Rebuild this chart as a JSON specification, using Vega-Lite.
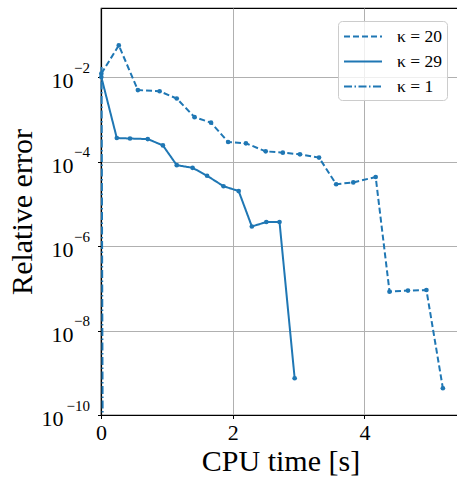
{
  "$schema": "https://vega.github.io/schema/vega-lite/v6.json",
  "width": 359,
  "height": 407,
  "autosize": {"type": "none"},
  "padding": {"left": 101, "top": 8, "right": 0, "bottom": 64},
  "background": "white",
  "config": {
    "font": "Liberation Serif",
    "view": {"stroke": "#000", "strokeWidth": 1.2},
    "axis": {
      "domainColor": "#000", "domainWidth": 1.2,
      "tickColor": "#000", "tickSize": 3.5, "tickWidth": 1,
      "gridColor": "#b0b0b0", "gridWidth": 1,
      "labelFont": "Liberation Serif", "labelFontSize": 22, "labelColor": "#000",
      "titleFont": "Liberation Serif", "titleFontSize": 30, "titleFontWeight": "normal", "titleColor": "#000"
    },
    "legend": {
      "labelFont": "Liberation Serif", "labelFontSize": 17.5, "labelColor": "#000"
    }
  },
  "datasets": {
    "curves": [
      {"k": "κ = 20", "t": 0.005, "e": 0.012},
      {"k": "κ = 20", "t": 0.27, "e": 0.056},
      {"k": "κ = 20", "t": 0.56, "e": 0.0049},
      {"k": "κ = 20", "t": 0.89, "e": 0.0046},
      {"k": "κ = 20", "t": 1.15, "e": 0.0031},
      {"k": "κ = 20", "t": 1.42, "e": 0.00112},
      {"k": "κ = 20", "t": 1.67, "e": 0.00083},
      {"k": "κ = 20", "t": 1.93, "e": 0.00029},
      {"k": "κ = 20", "t": 2.20, "e": 0.00027},
      {"k": "κ = 20", "t": 2.50, "e": 0.000174},
      {"k": "κ = 20", "t": 2.76, "e": 0.000162},
      {"k": "κ = 20", "t": 3.02, "e": 0.000148},
      {"k": "κ = 20", "t": 3.31, "e": 0.000124},
      {"k": "κ = 20", "t": 3.57, "e": 0.000029},
      {"k": "κ = 20", "t": 3.83, "e": 0.000032},
      {"k": "κ = 20", "t": 4.17, "e": 0.000043},
      {"k": "κ = 20", "t": 4.38, "e": 8.3e-8},
      {"k": "κ = 20", "t": 4.66, "e": 8.8e-8},
      {"k": "κ = 20", "t": 4.94, "e": 9.1e-8},
      {"k": "κ = 20", "t": 5.19, "e": 4.3e-10},
      {"k": "κ = 29", "t": 0.005, "e": 0.01},
      {"k": "κ = 29", "t": 0.24, "e": 0.00036},
      {"k": "κ = 29", "t": 0.44, "e": 0.00035},
      {"k": "κ = 29", "t": 0.71, "e": 0.00034},
      {"k": "κ = 29", "t": 0.94, "e": 0.00024},
      {"k": "κ = 29", "t": 1.15, "e": 0.000082},
      {"k": "κ = 29", "t": 1.39, "e": 0.000071},
      {"k": "κ = 29", "t": 1.61, "e": 0.000046},
      {"k": "κ = 29", "t": 1.86, "e": 0.000026},
      {"k": "κ = 29", "t": 2.09, "e": 0.00002},
      {"k": "κ = 29", "t": 2.29, "e": 2.9e-6},
      {"k": "κ = 29", "t": 2.51, "e": 3.7e-6},
      {"k": "κ = 29", "t": 2.71, "e": 3.7e-6},
      {"k": "κ = 29", "t": 2.94, "e": 7.4e-10},
      {"k": "κ = 1", "t": 0.008, "e": 0.0172},
      {"k": "κ = 1", "t": 0.025, "e": 1e-10}
    ],
    "exps": [
      {"v": 1e-2, "s": "−2"},
      {"v": 1e-4, "s": "−4"},
      {"v": 1e-6, "s": "−6"},
      {"v": 1e-8, "s": "−8"},
      {"v": 1e-10, "s": "−10"}
    ]
  },
  "layer": [
    {
      "data": {"name": "curves"},
      "transform": [{"filter": "datum.k !== 'κ = 1'"}],
      "mark": {"type": "line", "color": "#1f77b4", "strokeWidth": 2, "point": {"filled": true, "size": 22, "color": "#1f77b4"}},
      "encoding": {
        "x": {"field": "t", "type": "quantitative", "scale": {"domain": [0, 5.45], "nice": false, "zero": false},
          "axis": {"title": "CPU time [s]", "values": [0, 2, 4], "format": "d", "labelPadding": 4, "labelAngle": 0, "labelFlush": false, "titleBaseline": "alphabetic", "titleY": 55}},
        "y": {"field": "e", "type": "quantitative", "scale": {"type": "log", "domain": [1e-10, 0.43], "nice": false},
          "axis": {"title": "Relative error", "values": [1e-10, 1e-8, 1e-6, 1e-4, 1e-2], "labelExpr": "'10'", "labelBaseline": "alphabetic", "labelOffset": 10.5, "labelFlush": false,
            "labelPadding": {"condition": {"test": "datum.value < 1e-9", "value": 34.5}, "value": 24.5},
            "titleX": -70, "titleBaseline": "alphabetic"}},
        "strokeDash": {"field": "k", "type": "nominal",
          "scale": {"domain": ["κ = 20", "κ = 29", "κ = 1"], "range": [[6, 3], [1, 0], [8, 2.5, 1.5, 2.5]]},
          "legend": {"title": null, "orient": "top-right", "offset": 13, "symbolType": "M-2,0H2", "symbolSize": 361, "symbolOffset": 9.5, "symbolStrokeWidth": 2, "symbolStrokeColor": "#1f77b4", "symbolOpacity": 1,
            "labelFont": "Liberation Serif", "labelFontSize": 17.5, "labelColor": "#000",
            "labelOffset": 23.5, "rowPadding": 6, "padding": 5, "fillColor": "rgba(255,255,255,0.8)", "strokeColor": "#cccccc", "cornerRadius": 4,
            "encode": {"symbols": {"update": {"stroke": {"value": "#1f77b4"}, "strokeWidth": {"value": 2}, "opacity": {"value": 1}}}}}}
      }
    },
    {
      "data": {"name": "curves"},
      "transform": [{"filter": "datum.k === 'κ = 1'"}],
      "mark": {"type": "line", "color": "#1f77b4", "strokeWidth": 2},
      "encoding": {
        "x": {"field": "t", "type": "quantitative", "scale": {"domain": [0, 5.45], "nice": false, "zero": false}},
        "y": {"field": "e", "type": "quantitative", "scale": {"type": "log", "domain": [1e-10, 0.43], "nice": false}},
        "strokeDash": {"field": "k", "type": "nominal"}
      }
    },
    {
      "data": {"name": "exps"},
      "mark": {"type": "text", "align": "right", "baseline": "alphabetic", "dx": -11, "dy": -4.3, "fontSize": 15, "font": "Liberation Serif", "color": "#000"},
      "encoding": {
        "x": {"datum": 0},
        "y": {"field": "v", "type": "quantitative", "scale": {"type": "log", "domain": [1e-10, 0.43], "nice": false}},
        "text": {"field": "s"}
      }
    }
  ]
}
